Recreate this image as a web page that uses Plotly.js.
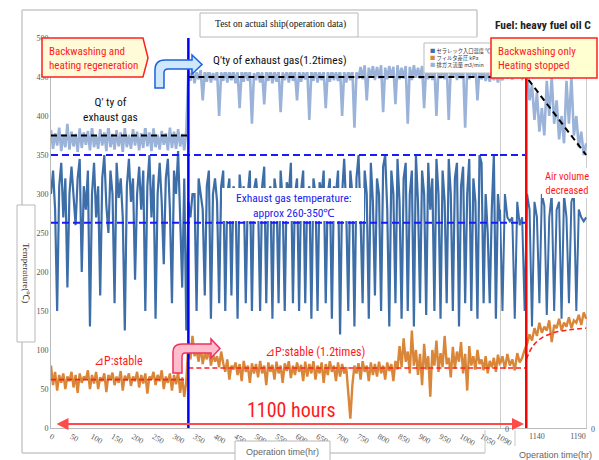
<!DOCTYPE html>
<html><head><meta charset="utf-8">
<script src="https://cdn.plot.ly/plotly-3.0.1.min.js"></script>
<style>html,body{margin:0;padding:0;background:#fff}#c{width:599px;height:460px}</style>
</head><body><div id="c"></div>
<script>
// ---------------- DATA ----------------
// main section: operation time 0..1095 h, sampled every 5 h
const mainStart = 0, mainStep = 5;
const tempMain = [
 300,330,280,150,310,340,270,320,180,300,
 335,290,260,320,345,200,310,280,330,130,
 300,340,270,310,170,320,350,285,250,330,
 300,160,340,295,320,270,125,310,345,290,
 320,190,300,335,280,330,150,310,350,270,
 325,140,300,340,290,210,320,345,280,160,
 330,300,355,270,180,320,125,290,270,300,
 300,150,320,300,280,170,310,330,140,300,
 320,290,160,310,330,150,300,320,170,310,
 300,140,325,290,310,160,300,330,150,305,
 320,290,150,310,335,160,300,310,140,320,
 300,160,330,290,150,315,300,340,160,300,
 320,150,305,330,160,300,310,140,320,300,
 150,315,300,330,160,300,320,140,310,300,
 330,120,300,345,280,150,330,300,130,320,
 350,270,160,330,300,140,340,290,170,320,
 300,150,335,350,280,130,330,300,160,345,
 290,140,320,340,150,300,330,130,350,290,
 160,330,300,145,340,280,320,150,345,300,
 140,330,290,160,345,300,150,320,340,130,
 310,335,160,300,345,150,320,290,140,350,
 340,160,300,250,160,280,350,140,300,265
];
const gasMain = [
 382,358,378,362,385,355,376,360,390,357,
 380,361,377,354,384,359,379,363,381,356,
 386,360,375,358,383,362,379,355,388,360,
 377,357,382,361,379,354,385,360,376,358,
 383,362,380,356,378,359,387,361,379,355,
 384,360,376,357,381,363,378,356,385,359,
 380,358,383,361,377,356,382,
 458,445,460,442,456,447,459,420,457,444,461,443,455,
 446,458,400,456,445,460,443,457,446,459,
 442,456,410,458,444,460,445,457,390,455,
 446,459,443,456,415,458,445,460,442,457,
 444,459,405,456,446,458,443,460,445,457,
 420,458,444,456,447,459,395,457,445,460,
 443,456,446,458,410,457,444,459,446,456,
 445,460,400,457,443,458,446,459,385,456,
 448,463,447,465,420,462,449,464,446,463,
 448,465,405,462,447,464,449,463,415,465,
 447,462,448,464,390,463,446,465,449,462,
 448,464,410,463,447,465,446,462,400,464,
 448,463,447,465,395,462,449,464,446,463,
 448,464,385,462,447,465,449,463,420,462,
 447,458,445,456,444,457,446,455,443,456
];
const dpMain = [
 80,55,72,48,68,58,70,50,66,60,
 72,52,68,45,70,58,66,62,74,50,
 68,57,72,50,65,60,70,46,68,62,
 71,55,66,58,73,48,67,61,70,54,
 66,60,72,52,68,57,70,44,66,62,
 72,55,68,60,74,50,66,58,70,48,
 68,56,72,45,65,40,60,
 110,88,118,92,100,85,105,82,96,88,102,80,95,
 85,92,78,98,83,72,88,62,80,75,
 84,68,82,60,86,72,80,58,83,70,
 82,65,86,70,80,55,84,72,81,62,
 85,70,80,58,83,73,86,64,80,68,
 84,72,81,60,85,66,82,70,86,62,
 80,70,84,58,82,68,86,72,80,60,
 84,66,82,70,78,40,12,55,80,70,
 83,62,86,72,80,60,84,68,82,66,
 85,70,80,62,84,73,82,60,86,75,
 105,78,115,85,98,70,125,80,100,68,
 95,55,108,75,92,40,100,80,112,72,
 96,78,118,82,90,65,104,76,98,85,
 110,70,95,48,105,80,92,75,100,82,
 88,74,92,70,86,78,90,72,94,80
];
// right section: 1095..1200 h, sampled every 3 h
const rightStart = 1095, rightStep = 3;
const tempRight = [280,150,300,270,265,270,140,290,260,270,150,300,280,130,290,270,160,300,285,145,270,300,150,280,290,140,300,270,160,290,300,150,280,270,265,270];
const gasRight  = [452,446,456,448,455,447,457,449,454,448,452,
 455,420,440,395,430,380,410,375,445,400,450,390,420,370,400,365,445,390,450,375,400,360,380,350,365];
const dpRight   = [82,92,76,95,80,88,74,96,84,90,100,
 108,120,112,128,118,135,122,130,125,138,110,132,128,140,125,135,130,142,128,138,135,145,132,148,140];

// guide levels
const switchTime = 335, stopTime = 1127, endTime = 1200;
const gasLevel1 = 375, gasLevel2 = 450, gasEnd = 350;
const tempBandHi = 350, tempBandLo = 263;
const dpLevel1 = 62, dpLevel2 = 77;
const dpCurveT = [1127,1135,1145,1160,1180,1200];
const dpCurveV = [88,105,115,122,126,128];

const xTicksMain = [0,50,100,150,200,250,300,350,400,450,500,550,600,650,700,750,800,850,900,950,1000,1050,1090];
const xTicksRight = [1140,1190];
const yTicks = [0,50,100,150,200,250,300,350,400,450,500];

const seriesNames = ['セラレック入口温度 ℃','フィルタ差圧 kPa','排ガス流量 m3/min'];
// ---------------------------------------------------------

const cTemp='#3d6ea8', cGas='#9bb3d9', cDp='#da8638';
const tMain = tempMain.map((_,i)=>mainStart+i*mainStep);
const tRight = tempRight.map((_,i)=>rightStart+i*rightStep);

const splitAt = 1095;
const traces = [
 {x:tMain,y:gasMain,xaxis:'x',yaxis:'y',mode:'lines',line:{color:cGas,width:2.6}},
 {x:tRight,y:gasRight,xaxis:'x2',yaxis:'y',mode:'lines',line:{color:cGas,width:2.6}},
 {x:tMain,y:tempMain,xaxis:'x',yaxis:'y',mode:'lines',line:{color:cTemp,width:2.2}},
 {x:tRight,y:tempRight,xaxis:'x2',yaxis:'y',mode:'lines',line:{color:cTemp,width:2}},
 {x:tMain,y:dpMain,xaxis:'x',yaxis:'y',mode:'lines',line:{color:cDp,width:2.4}},
 {x:tRight,y:dpRight,xaxis:'x2',yaxis:'y',mode:'lines',line:{color:cDp,width:2.4}},
 // guides
 {x:[0,switchTime],y:[gasLevel1,gasLevel1],xaxis:'x',mode:'lines',line:{color:'#000',width:2,dash:'6px,4px'}},
 {x:[switchTime,splitAt],y:[gasLevel2,gasLevel2],xaxis:'x',mode:'lines',line:{color:'#000',width:2,dash:'6px,4px'}},
 {x:[splitAt,stopTime,endTime],y:[gasLevel2,gasLevel2,gasEnd],xaxis:'x2',mode:'lines',line:{color:'#000',width:2,dash:'6px,4px'}},
 {x:[0,splitAt],y:[tempBandHi,tempBandHi],xaxis:'x',mode:'lines',line:{color:'#1a1aff',width:2,dash:'7px,4px'}},
 {x:[0,splitAt],y:[tempBandLo,tempBandLo],xaxis:'x',mode:'lines',line:{color:'#1a1aff',width:2,dash:'7px,4px'}},
 {x:[splitAt,stopTime],y:[tempBandHi,tempBandHi],xaxis:'x2',mode:'lines',line:{color:'#1a1aff',width:2,dash:'7px,4px'}},
 {x:[splitAt,stopTime],y:[tempBandLo,tempBandLo],xaxis:'x2',mode:'lines',line:{color:'#1a1aff',width:2,dash:'7px,4px'}},
 {x:[0,switchTime],y:[dpLevel1,dpLevel1],xaxis:'x',mode:'lines',line:{color:'#ff2020',width:1.6,dash:'5px,3px'}},
 {x:[switchTime,splitAt],y:[dpLevel2,dpLevel2],xaxis:'x',mode:'lines',line:{color:'#ff2020',width:1.6,dash:'5px,3px'}},
 {x:[splitAt,stopTime],y:[dpLevel2,dpLevel2],xaxis:'x2',mode:'lines',line:{color:'#ff2020',width:1.6,dash:'5px,3px'}},
 {x:dpCurveT,y:dpCurveV,xaxis:'x2',mode:'lines',line:{color:'#ff2020',width:1.6,dash:'5px,3px',shape:'spline'}}
];
traces.forEach(t=>{t.showlegend=false; t.hoverinfo='skip';});

// pixel -> paper helpers (plot area 51..587 x 38..428)
const L=51,T=38,PW=536,PH=390;
const px=x=>(x-L)/PW, py=y=>(T+PH-y)/PH;
function path(cmds){
  return cmds.map(c=>{const op=c[0];let s=op;for(let i=1;i<c.length;i+=2){s+=(i>1?' ':'')+px(c[i]).toFixed(4)+','+py(c[i+1]).toFixed(4);}return s;}).join(' ')+' Z';
}
function rect(x0,y0,x1,y1,fill,line,lw){return {type:'rect',xref:'paper',yref:'paper',x0:px(x0),x1:px(x1),y0:py(y1),y1:py(y0),fillcolor:fill,line:{color:line,width:lw===undefined?1:lw},layer:'above'};}
function seg(x0,y0,x1,y1,col,w){return {type:'line',xref:'paper',yref:'paper',x0:px(x0),x1:px(x1),y0:py(y0),y1:py(y1),line:{color:col,width:w},layer:'above'};}

const shapes = [
 {type:'line',xref:'x',yref:'y',x0:switchTime,x1:switchTime,y0:0,y1:500,line:{color:'#0000ff',width:2.5},layer:'above'},
 {type:'line',xref:'x2',yref:'y',x0:stopTime,x1:stopTime,y0:0,y1:500,line:{color:'#ff0000',width:2.5},layer:'above'},
 {type:'line',xref:'x2',yref:'y',x0:splitAt,x1:splitAt,y0:0,y1:500,line:{color:'#cccccc',width:2},layer:'below'},
 {type:'line',xref:'x2',yref:'y',x0:endTime+1,x1:endTime+1,y0:0,y1:500,line:{color:'#cccccc',width:2},layer:'below'},
 rect(203,45,357,72,'#fff','rgba(0,0,0,0)',0),
 rect(70,88,150,128,'#fff','rgba(0,0,0,0)',0),
 rect(222,188,364,221,'#fff','rgba(0,0,0,0)',0),
 rect(542,168,593,198,'#fff','rgba(0,0,0,0)',0),
 rect(88,353,148,369,'#fff','rgba(0,0,0,0)',0),
 rect(262,344,368,361,'#fff','rgba(0,0,0,0)',0),
 rect(424,43,493,73,'#fff','#bbbbbb',1),
 {type:'path',xref:'paper',yref:'paper',path:path([['M',42,38],['L',143,38],['L',148,58],['L',143,77],['L',42,77]]),fillcolor:'#fffbd8',line:{color:'#ff2020',width:1.5},layer:'above'},
 rect(491,38,597,78,'#ffffd2','#ff2020',1.5),
 {type:'path',xref:'paper',yref:'paper',path:path([['M',155,88],['L',155,70],['Q',155,60,165,60],['L',192,60],['L',192,55],['L',202,64.5],['L',192,74],['L',192,69],['L',168,69],['Q',164,69,164,73],['L',164,88]]),fillcolor:'#cde8fa',line:{color:'#1f5fe0',width:1.5},layer:'above'},
 {type:'path',xref:'paper',yref:'paper',path:path([['M',173,373],['L',173,352],['Q',173,344,182,344],['L',211,344],['L',211,339],['L',220,348.5],['L',211,358],['L',211,353],['L',185,353],['Q',182,353,182,357],['L',182,373]]),fillcolor:'#ffbccd',line:{color:'#ee3060',width:1.5},layer:'above'},
 seg(22,10,477,10,'#c8c8c8',1.5), seg(22,10,22,453,'#c8c8c8',1.5), seg(22,453,485,453,'#c8c8c8',1.5),
 seg(477,10,477,37,'#c8c8c8',1.5), seg(358,37,477,37,'#c8c8c8',1), seg(485,430,485,453,'#c8c8c8',1),
 rect(200,13,358,37,'#fff','#b8b8b8',1),
 rect(17,205,35,342,'#fff','#b8b8b8',1),
 rect(235,441,330,462,'#fff','#b8b8b8',1),
 seg(515,430,515,446,'#c8c8c8',1)
];

const red='#ff1a1a', narrow='"Liberation Sans Narrow", "Roboto Condensed", Roboto, "Liberation Sans", Arial, sans-serif';
function ann(x,y,text,size,color,opt){return Object.assign({xref:'paper',yref:'paper',x:px(x),y:py(y),text:text,showarrow:false,font:{family:narrow,size:size,color:color},xanchor:'center',yanchor:'middle'},opt||{});}
const annotations = [
 ann(280,25,'Test on actual ship(operation data)',9.5,'#111',{font:{family:'"Liberation Serif", serif',size:9.5,color:'#111'}}),
 ann(543,25,'<b>Fuel: heavy fuel oil C</b>',11.5,'#222'),
 ann(47,58,'Backwashing and<br>heating regeneration',11,red,{xanchor:'left',align:'left'}),
 ann(496,58,'Backwashing only<br>Heating stopped',11,red,{xanchor:'left',align:'left'}),
 ann(280,60,"Q'ty of exhaust gas(1.2times)",11.5,'#111'),
 ann(110,109,"Q' ty of<br>exhaust gas",11.5,'#111'),
 ann(294,205,'Exhaust gas temperature:<br>approx 260-350℃',11.5,'#2222ee'),
 ann(567,183,'Air volume<br>decreased',10.5,red),
 ann(118,361,'⊿P:stable',12,red),
 ann(315,352,'⊿P:stable (1.2times)',12,red),
 ann(291,410,'1100 hours',20,red),
 ann(428,58,'<span style="color:'+cTemp+'">■</span> '+seriesNames[0]+'<br><span style="color:'+cDp+'">■</span> '+seriesNames[1]+'<br><span style="color:'+cGas+'">■</span> '+seriesNames[2],5.3,'#333',{xanchor:'left',align:'left',font:{family:'"Noto Sans CJK JP", sans-serif',size:5.3,color:'#333'}}),
 ann(26,273,'Temperature(℃)',9,'#333',{textangle:90,font:{family:'"Liberation Serif", serif',size:9,color:'#333'}}),
 ann(282,452,'Operation time(hr)',9,'#666',{font:{family:'"Liberation Sans", sans-serif',size:9,color:'#666'}}),
 ann(555,455,'Operation time(hr)',9,'#666',{font:{family:'"Liberation Sans", sans-serif',size:9,color:'#666'}}),
 ann(507,429,'0',8,'#555',{font:{family:'"Liberation Serif", serif',size:8,color:'#555'}}),
 ann(593,429,'0',8,'#555',{font:{family:'"Liberation Serif", serif',size:8,color:'#555'}}),
 {xref:'paper',yref:'paper',x:px(524),y:py(424),ax:55-524,ay:0,axref:'pixel',ayref:'pixel',text:'',showarrow:true,arrowside:'end+start',arrowhead:2,arrowsize:1.2,arrowwidth:2,arrowcolor:'#ff4a4a'}
];

const tickFont={family:'"Liberation Serif", serif',size:8,color:'#555'};
const layout = {
 width:599,height:460,margin:{l:L,r:599-L-PW,t:T,b:460-T-PH},
 paper_bgcolor:'#fff',plot_bgcolor:'#fff',showlegend:false,
 xaxis:{domain:[0,(500-L)/PW],range:[0,splitAt],tickmode:'array',tickvals:xTicksMain,ticktext:xTicksMain.map(String),tickfont:tickFont,showgrid:false,zeroline:false,showline:true,linecolor:'#bbb',linewidth:1,ticks:'',anchor:'y',fixedrange:true},
 xaxis2:{domain:[(500-L)/PW,1],range:[splitAt,endTime+1],tickmode:'array',tickvals:xTicksRight,ticktext:xTicksRight.map(String),tickfont:tickFont,showgrid:false,zeroline:false,showline:true,linecolor:'#bbb',linewidth:1,ticks:'',anchor:'y',fixedrange:true},
 yaxis:{range:[0,500],tickmode:'array',tickvals:yTicks,ticktext:yTicks.map(String),tickfont:tickFont,showgrid:false,zeroline:false,showline:true,linecolor:'#bbb',linewidth:1,ticks:'',fixedrange:true},
 shapes:shapes,annotations:annotations
};
Plotly.newPlot('c',traces,layout,{displayModeBar:false,staticPlot:true});
</script></body></html>
